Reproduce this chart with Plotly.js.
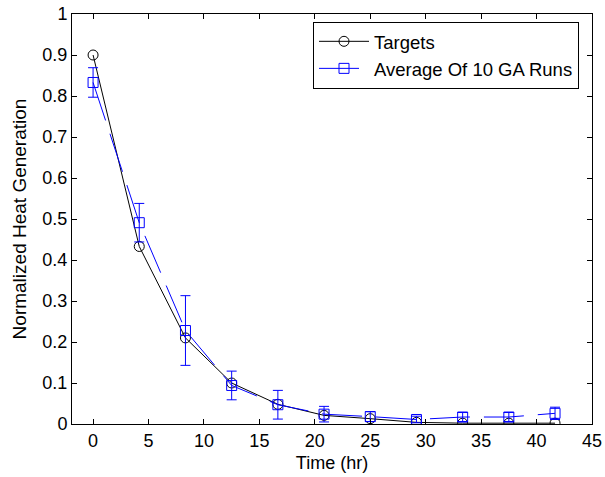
<!DOCTYPE html>
<html>
<head>
<meta charset="utf-8">
<script src="https://cdn.plot.ly/plotly-3.0.1.min.js"></script>
<style>html,body{margin:0;padding:0;background:#fff;}#chart{width:605px;height:477px;}</style>
</head>
<body>
<div id="chart"></div>
<script>
var timeHr = [0, 4.1667, 8.3333, 12.5, 16.6667, 20.8333, 25, 29.1667, 33.3333, 37.5, 41.6667];
var targets = [0.9, 0.433, 0.21, 0.1, 0.048, 0.021, 0.013, 0.004, 0.002, 0.002, 0.002];
var gaAverage = [0.833, 0.491, 0.228, 0.094, 0.047, 0.024, 0.018, 0.011, 0.017, 0.017, 0.026];
var gaError = [0.036, 0.047, 0.085, 0.035, 0.035, 0.019, 0.012, 0.008, 0.011, 0.011, 0.015];
var xTicks = [0, 5, 10, 15, 20, 25, 30, 35, 40, 45];
var yTicks = [0, 0.1, 0.2, 0.3, 0.4, 0.5, 0.6, 0.7, 0.8, 0.9, 1];

var FONT = 'Liberation Sans, Arial, sans-serif';

var traces = [
  {
    x: timeHr, y: targets, name: 'Targets', type: 'scatter', mode: 'lines+markers',
    line: {color: '#000000', width: 1},
    marker: {symbol: 'circle-open', size: 10, color: '#000000', line: {width: 1}}
  },
  {
    x: timeHr, y: gaAverage, name: 'Average Of 10 GA Runs', type: 'scatter', mode: 'lines+markers',
    line: {color: '#0000ff', width: 1, dash: '40px,14px'},
    marker: {symbol: 'square-open', size: 10, color: '#0000ff', line: {width: 1}},
    error_y: {type: 'data', array: gaError, visible: true, color: '#0000ff', thickness: 1, width: 5}
  }
];

var axisCommon = {
  showline: true, linecolor: '#000', linewidth: 1, mirror: 'ticks',
  ticks: 'inside', ticklen: 5, tickcolor: '#000', tickwidth: 1,
  showgrid: false, zeroline: false,
  tickfont: {family: FONT, size: 18, color: '#000'}
};

var layout = {
  width: 605, height: 477,
  margin: {l: 72, r: 13, t: 14, b: 53},
  paper_bgcolor: '#fff', plot_bgcolor: '#fff',
  showlegend: true,
  xaxis: Object.assign({}, axisCommon, {
    range: [-1.9, 45], tickvals: xTicks,
    title: {text: 'Time (hr)', font: {family: FONT, size: 18, color: '#000'}, standoff: 6}
  }),
  yaxis: Object.assign({}, axisCommon, {
    range: [0, 1], tickvals: yTicks,
    title: {text: 'Normalized Heat Generation', font: {family: FONT, size: 19, color: '#000'}, standoff: 10}
  }),
  legend: {
    x: 0.975, y: 0.981, xanchor: 'right', yanchor: 'top',
    bgcolor: '#fff', bordercolor: '#000', borderwidth: 1,
    font: {family: FONT, size: 18.5, color: '#000'},
    itemwidth: 50,
    tracegroupgap: 0
  }
};

Plotly.newPlot('chart', traces, layout, {displayModeBar: false, staticPlot: true});
</script>
</body>
</html>
